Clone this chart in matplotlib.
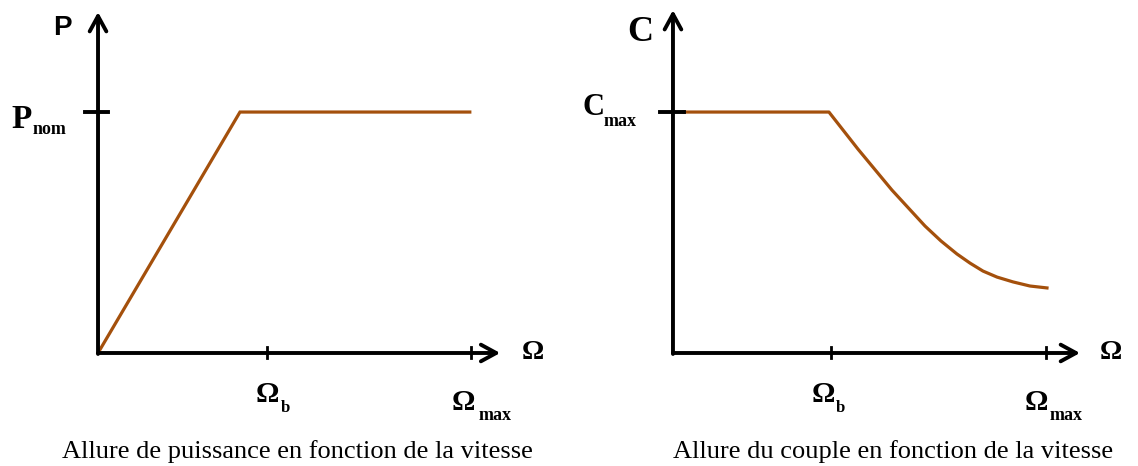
import numpy as np
import matplotlib.pyplot as plt

# Power curve (left): speed in units of Omega_b tick, power in units of P_nom
p_omega = [0.0, 0.84, 2.20]
p_power = [0.0, 1.0, 1.0]

# Torque curve (right): speed in units of Omega_b tick, torque in units of C_max
c_omega = [0.07, 0.987, 1.171, 1.386, 1.595, 1.696, 1.797, 1.880, 1.962,
           2.051, 2.152, 2.259, 2.367]
c_torque = [1.0, 1.0, 0.846, 0.676, 0.527, 0.465, 0.411, 0.373, 0.340,
            0.315, 0.295, 0.278, 0.270]

p_ticks = [1.0, 2.21]      # Omega_b, Omega_max
c_ticks = [1.0, 2.36]

captions = ["Allure de puissance en fonction de la vitesse",
            "Allure du couple en fonction de la vitesse"]

brown = '#a4500c'
serif = 'Liberation Serif'

fig = plt.figure(figsize=(11.38, 4.66), dpi=100)
axL = fig.add_axes([0, 0, 0.5, 1])
axR = fig.add_axes([0.5, 0, 0.5, 1])
axL.set_xlim(-0.58, 2.787)
axR.set_xlim(-0.658, 2.943)
for ax in (axL, axR):
    ax.set_ylim(-0.469, 1.465)
    ax.axis('off')


def axes_arrows(ax, xtip, ytip):
    arr = dict(arrowstyle='->,head_length=1.1,head_width=0.6', lw=2.8,
               color='black', shrinkA=0, shrinkB=0)
    ax.annotate('', xy=(xtip, 0), xytext=(0, 0), arrowprops=arr)
    ax.annotate('', xy=(0, ytip), xytext=(0, -0.004), arrowprops=arr)


def bold(ax, x, y, s, size, **kw):
    ax.text(x, y, s, fontsize=size, fontweight='bold', family=serif, **kw)


# ---- left: power
axes_arrows(axL, 2.38, 1.415)
axL.plot(p_omega, p_power, color=brown, lw=2.3, solid_joinstyle='miter')
axL.plot([-0.077, 0.06], [1, 1], color='black', lw=2.8)
for t in p_ticks:
    axL.plot([t, t], [-0.02, 0.025], color='black', lw=2)

axL.text(-0.213, 1.35, 'P', fontsize=20, fontweight='bold',
         family='Liberation Sans', ha='center', va='center')
bold(axL, -0.51, 0.934, 'P', 24)
bold(axL, -0.385, 0.91, 'nom', 13)
bold(axL, 2.509, 0.0, 'Ω', 20, ha='left', va='center')
bold(axL, 0.935, -0.203, 'Ω', 21)
bold(axL, 1.083, -0.245, 'b', 12)
bold(axL, 2.095, -0.237, 'Ω', 21)
bold(axL, 2.249, -0.278, 'max', 13)
axL.text(1.178, -0.436, captions[0], fontsize=19, family=serif, ha='center')

# ---- right: torque
axes_arrows(axR, 2.576, 1.423)
axR.plot(c_omega, c_torque, color=brown, lw=2.3, solid_joinstyle='round')
axR.plot([-0.08, 0.07], [1, 1], color='black', lw=2.8)
for t in c_ticks:
    axR.plot([t, t], [-0.02, 0.025], color='black', lw=2)

bold(axR, -0.209, 1.33, 'C', 26, ha='center', va='center')
bold(axR, -0.57, 0.988, 'C', 22)
bold(axR, -0.437, 0.94, 'max', 13)
bold(axR, 2.703, 0.0, 'Ω', 20, ha='left', va='center')
bold(axR, 0.880, -0.203, 'Ω', 21)
bold(axR, 1.032, -0.245, 'b', 12)
bold(axR, 2.228, -0.237, 'Ω', 21)
bold(axR, 2.386, -0.278, 'max', 13)
axR.text(1.392, -0.436, captions[1], fontsize=19, family=serif, ha='center')

fig.savefig('out.png', dpi=100)
